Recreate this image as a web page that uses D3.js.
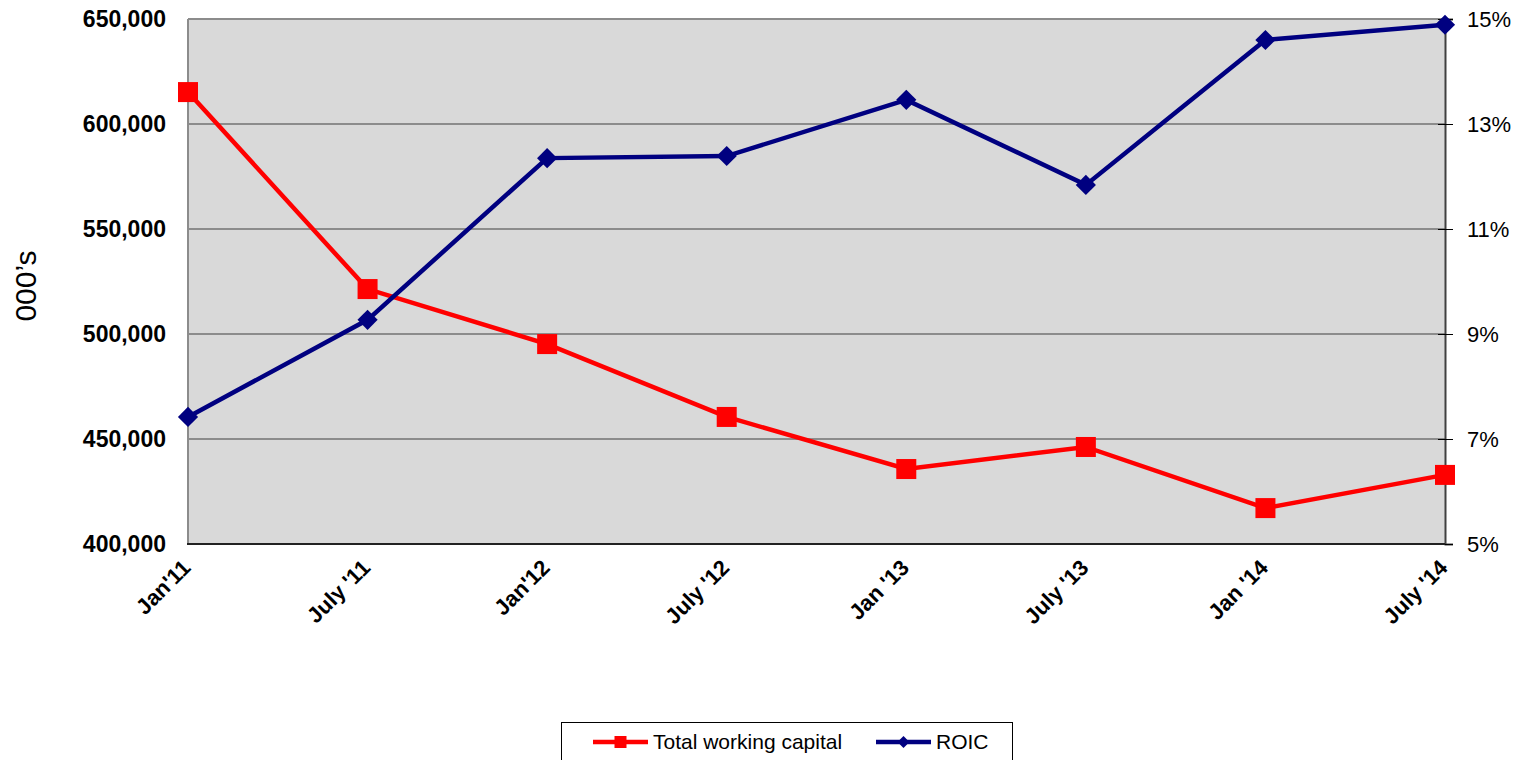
<!DOCTYPE html>
<html>
<head>
<meta charset="utf-8">
<script src="https://cdn.jsdelivr.net/npm/d3@7"></script>
<style>
  body { margin: 0; background: #fff; }
  svg { display: block; font-family: Arial, "Liberation Sans", sans-serif; }
</style>
</head>
<body>
<script>
// data
const periods = ["Jan'11", "July '11", "Jan'12", "July '12", "Jan '13", "July '13", "Jan '14", "July '14"];
const workingCapital = [615200, 521400, 495200, 460500, 435700, 446200, 417100, 432900];
const roic = [7.42, 9.27, 12.35, 12.39, 13.46, 11.84, 14.6, 14.89];
const leftTicks = [400000, 450000, 500000, 550000, 600000, 650000];
const rightTicks = [5, 7, 9, 11, 13, 15];
const seriesNames = ["Total working capital", "ROIC"];

const W = 1524, H = 760;
const plot = { left: 188, right: 1445, top: 19, bottom: 544 };

const svg = d3.select('body').append('svg')
    .attr('width', W)
    .attr('height', H);

const x = d3.scalePoint()
    .domain(periods)
    .range([plot.left, plot.right]);

const yL = d3.scaleLinear()
    .domain([400000, 650000])
    .range([plot.bottom, plot.top]);

const yR = d3.scaleLinear()
    .domain([5, 15])
    .range([plot.bottom, plot.top]);

// plot background
svg.append('rect')
    .attr('x', plot.left).attr('y', plot.top)
    .attr('width', plot.right - plot.left)
    .attr('height', plot.bottom - plot.top)
    .attr('fill', '#d9d9d9');

// gridlines
svg.append('g')
    .selectAll('line')
    .data(leftTicks.slice(1))
    .join('line')
    .attr('x1', plot.left).attr('x2', plot.right)
    .attr('y1', d => yL(d)).attr('y2', d => yL(d))
    .attr('stroke', '#8c8c8c')
    .attr('stroke-width', 2);

// left border
svg.append('line')
    .attr('x1', plot.left).attr('x2', plot.left)
    .attr('y1', plot.top).attr('y2', plot.bottom)
    .attr('stroke', '#8c8c8c').attr('stroke-width', 2);

// left axis labels
const fmt = d3.format(',');
svg.append('g')
    .selectAll('text')
    .data(leftTicks)
    .join('text')
    .attr('x', 166)
    .attr('y', d => yL(d))
    .attr('dy', '0.35em')
    .attr('text-anchor', 'end')
    .attr('font-weight', 'bold')
    .attr('font-size', 23)
    .text(d => fmt(d));

// right axis
const rightAxis = svg.append('g')
    .attr('transform', `translate(${plot.right},0)`)
    .call(d3.axisRight(yR).tickValues(rightTicks).tickFormat(d => d + '%').tickSize(8).tickPadding(14));
rightAxis.select('.domain').attr('stroke', '#404040').attr('stroke-width', 2);
rightAxis.selectAll('.tick line').attr('x1', -7).attr('stroke', '#000');
rightAxis.selectAll('.tick text')
    .attr('font-size', 22)
    .attr('font-family', 'Arial, "Liberation Sans", sans-serif')
    .attr('fill', '#000');

// bottom border
svg.append('line')
    .attr('x1', plot.left - 1).attr('x2', plot.right)
    .attr('y1', plot.bottom).attr('y2', plot.bottom)
    .attr('stroke', '#222').attr('stroke-width', 2);

// x labels
svg.append('g')
    .selectAll('text')
    .data(periods)
    .join('text')
    .attr('transform', d => `translate(${x(d) + 4},${plot.bottom + 25}) rotate(-45)`)
    .attr('text-anchor', 'end')
    .attr('font-weight', 'bold')
    .attr('font-size', 22)
    .text(d => d);

// y title
svg.append('text')
    .attr('transform', 'translate(36,286) rotate(-90)')
    .attr('text-anchor', 'middle')
    .attr('font-size', 30)
    .text('000\u2019s');

// lines
const lineL = d3.line().x((d, i) => x(periods[i])).y(d => yL(d));
const lineR = d3.line().x((d, i) => x(periods[i])).y(d => yR(d));

svg.append('path')
    .datum(workingCapital)
    .attr('d', lineL)
    .attr('fill', 'none')
    .attr('stroke', '#ff0000')
    .attr('stroke-width', 4.5);

svg.append('g')
    .selectAll('rect')
    .data(workingCapital)
    .join('rect')
    .attr('x', (d, i) => x(periods[i]) - 10)
    .attr('y', d => yL(d) - 10)
    .attr('width', 20).attr('height', 20)
    .attr('fill', '#ff0000');

svg.append('path')
    .datum(roic)
    .attr('d', lineR)
    .attr('fill', 'none')
    .attr('stroke', '#000080')
    .attr('stroke-width', 4.5);

const diamond = d3.symbol().type(d3.symbolDiamond2).size(260);
svg.append('g')
    .selectAll('path')
    .data(roic)
    .join('path')
    .attr('transform', (d, i) => `translate(${x(periods[i])},${yR(d)})`)
    .attr('d', diamond)
    .attr('fill', '#000080');

// legend
const legend = svg.append('g');
legend.append('rect')
    .attr('x', 561.5).attr('y', 722.5)
    .attr('width', 451).attr('height', 45)
    .attr('fill', '#fff')
    .attr('stroke', '#000')
    .attr('stroke-width', 1);

const legendItems = [
    { name: seriesNames[0], color: '#ff0000', shape: 'square', x0: 593, x1: 648, tx: 653 },
    { name: seriesNames[1], color: '#000080', shape: 'diamond', x0: 876, x1: 931, tx: 936 }
];
const ly = 742;
legendItems.forEach(it => {
    legend.append('line')
        .attr('x1', it.x0).attr('x2', it.x1)
        .attr('y1', ly).attr('y2', ly)
        .attr('stroke', it.color).attr('stroke-width', 4.5);
    if (it.shape === 'square') {
        legend.append('rect')
            .attr('x', (it.x0 + it.x1) / 2 - 6).attr('y', ly - 6)
            .attr('width', 12).attr('height', 12)
            .attr('fill', it.color);
    } else {
        legend.append('path')
            .attr('transform', `translate(${(it.x0 + it.x1) / 2},${ly})`)
            .attr('d', d3.symbol().type(d3.symbolDiamond2).size(90))
            .attr('fill', it.color);
    }
    legend.append('text')
        .attr('x', it.tx).attr('y', ly)
        .attr('dy', '0.35em')
        .attr('font-size', 21)
        .text(it.name);
});
</script>
</body>
</html>
